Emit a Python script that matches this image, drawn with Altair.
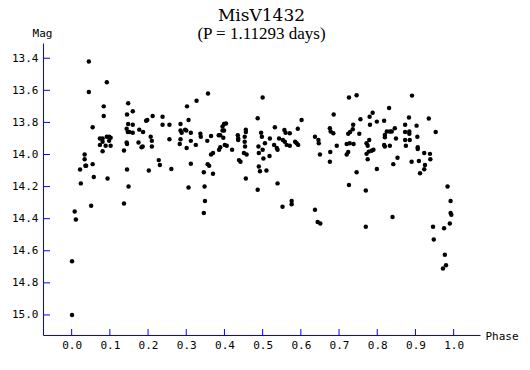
import altair as alt
import pandas as pd

phase = [
    0.001, 0.001, 0.008, 0.011, 0.022, 0.024, 0.034, 0.034, 0.036, 0.038,
    0.045, 0.045, 0.055, 0.055, 0.058, 0.051,
    0.074, 0.081, 0.092, 0.098, 0.102, 0.081, 0.098, 0.074, 0.089, 0.102,
    0.081, 0.084, 0.084, 0.092, 0.094,
    0.137, 0.137, 0.144, 0.147, 0.144, 0.145, 0.145, 0.148, 0.148, 0.145, 0.149,
    0.160, 0.160, 0.151, 0.160, 0.177, 0.187, 0.175, 0.183, 0.186, 0.195, 0.198,
    0.212, 0.207, 0.210, 0.210, 0.238, 0.238, 0.256, 0.256, 0.228, 0.231, 0.202, 0.261,
    0.285, 0.302, 0.327, 0.306, 0.285, 0.288, 0.297, 0.300, 0.312, 0.285, 0.283,
    0.301, 0.312, 0.325, 0.312, 0.306,
    0.337, 0.338, 0.346, 0.357, 0.355, 0.356, 0.360, 0.365, 0.365, 0.370, 0.370,
    0.385, 0.389, 0.386, 0.389, 0.395, 0.399, 0.404, 0.395, 0.399, 0.397, 0.401, 0.406,
    0.420, 0.435, 0.436, 0.436, 0.438, 0.442, 0.453, 0.453, 0.454, 0.456, 0.456,
    0.451, 0.458, 0.456, 0.487, 0.496, 0.498, 0.489, 0.500, 0.490, 0.490, 0.493,
    0.500, 0.502, 0.487, 0.506, 0.510,
    0.518, 0.519, 0.532, 0.530, 0.537, 0.539, 0.539, 0.543, 0.553, 0.558, 0.563, 0.571,
    0.557, 0.560, 0.571, 0.592, 0.602, 0.585, 0.589, 0.593,
    0.637, 0.646, 0.647, 0.650, 0.677, 0.676, 0.676, 0.678, 0.685, 0.686, 0.694,
    0.720, 0.724, 0.720, 0.728, 0.738, 0.724, 0.729, 0.736, 0.737, 0.726, 0.746,
    0.756, 0.753, 0.746,
    0.772, 0.775, 0.779, 0.772, 0.778, 0.785, 0.790, 0.775, 0.781, 0.780, 0.788,
    0.799, 0.799, 0.818, 0.820, 0.820, 0.818, 0.820, 0.825, 0.833, 0.838, 0.846,
    0.831, 0.833, 0.842, 0.849, 0.853,
    0.873, 0.873, 0.873, 0.875, 0.883, 0.884, 0.884, 0.885, 0.891, 0.890,
    0.903, 0.905, 0.906, 0.906, 0.909, 0.912, 0.923, 0.925, 0.923, 0.938, 0.939,
    0.935, 0.953,
    0.348, 0.349, 0.346, 0.552, 0.576, 0.576, 0.637, 0.644, 0.651, 0.726,
    0.770, 0.770, 0.840, 0.946, 0.948, 0.975, 0.977, 0.980, 0.972, 0.984,
    0.992, 0.992, 0.994, 0.990,
]

mag = [
    15.000, 14.665, 14.355, 14.405, 14.094, 14.180, 14.000, 14.030, 14.070, 14.070,
    13.420, 13.610, 13.830, 14.060, 14.140, 14.320,
    13.900, 13.900, 13.890, 13.890, 13.895, 13.920, 13.915, 13.940, 13.945, 13.945,
    13.980, 13.700, 13.760, 13.550, 14.150,
    13.975, 14.306, 13.840, 13.860, 13.925, 13.935, 13.750, 13.680, 13.810, 14.094, 14.200,
    13.730, 13.815, 13.860, 13.865, 13.845, 13.860, 13.925, 13.955, 13.950, 13.790, 13.785,
    13.760, 13.890, 13.915, 13.950, 13.765, 13.815, 13.815, 13.905, 14.035, 14.065, 14.100, 14.090,
    13.810, 13.700, 13.665, 13.785, 13.850, 13.865, 13.845, 13.850, 13.865, 13.905, 13.935,
    13.960, 13.915, 13.940, 14.057, 14.205,
    13.870, 13.890, 14.110, 13.620, 13.915, 14.060, 14.070, 13.885, 14.000, 13.990, 14.120,
    13.880, 13.880, 13.970, 13.955, 13.826, 13.810, 13.807, 13.850, 13.850, 13.895, 13.940, 13.945,
    13.970, 13.880, 13.900, 13.910, 14.035, 14.045, 13.890, 13.920, 13.950, 13.845, 13.860,
    13.990, 14.000, 14.150, 13.774, 13.865, 13.890, 13.950, 13.645, 13.990, 14.075, 14.105,
    13.970, 14.025, 14.220, 13.930, 14.100,
    14.010, 13.900, 13.830, 13.940, 13.960, 13.970, 14.180, 13.900, 13.910, 13.920, 13.940, 13.945,
    13.847, 13.864, 13.867, 13.840, 13.785, 13.920, 13.930, 13.940,
    13.890, 13.910, 13.930, 14.000, 13.985, 14.045, 13.836, 13.857, 13.867, 13.750, 13.945,
    14.000, 13.985, 13.934, 13.930, 13.934, 13.870, 13.860, 13.843, 13.815, 13.645, 13.630,
    13.780, 13.870, 14.110,
    13.930, 13.945, 13.910, 13.996, 13.982, 13.976, 13.970, 14.030, 13.815, 13.764, 13.740,
    13.795, 14.090, 13.790, 13.878, 13.892, 13.940, 13.950, 13.857, 13.857, 13.857, 13.836,
    13.710, 13.945, 14.060, 13.900, 14.020,
    13.815, 13.860, 13.910, 13.945, 13.770, 13.857, 13.870, 13.910, 13.633, 14.045,
    13.820, 13.890, 13.955, 13.965, 14.040, 14.117, 14.092, 14.065, 13.990, 13.996, 14.030,
    13.775, 13.860,
    14.200, 14.290, 14.365, 14.325, 14.290, 14.310, 14.345, 14.420, 14.430, 14.190,
    14.225, 14.450, 14.390, 14.450, 14.530, 14.460, 14.625, 14.690, 14.710, 14.200,
    14.290, 14.365, 14.375, 14.430,
]

x_ticks = [0.0, 0.1, 0.2, 0.3, 0.4, 0.5, 0.6, 0.7, 0.8, 0.9, 1.0]
y_ticks = [13.4, 13.6, 13.8, 14.0, 14.2, 14.4, 14.6, 14.8, 15.0]

W, H = 437, 292
BLUE = "#0000ff"
FONT = "DejaVu Sans Mono"

df = pd.DataFrame({"phase": phase, "mag": mag})
xs = alt.Scale(domain=[-0.075, 1.069], nice=False, zero=False)
ys = alt.Scale(domain=[13.305, 15.125], reverse=True, nice=False, zero=False)

common_axis = dict(
    domainColor=BLUE, domainWidth=1, ticks=False, tickSize=0, grid=False,
    labelFont=FONT, labelFontSize=11, labelColor="black",
    titleFont=FONT, titleFontSize=11, titleFontWeight="normal", titleColor="black",
    titleAngle=0, format=".1f",
)

x_axis = alt.Axis(
    values=x_ticks, title="Phase", labelPadding=4,
    titleX=442, titleY=4, titleAlign="left", titleBaseline="alphabetic",
    **common_axis)
y_axis = alt.Axis(
    values=y_ticks, title="Mag", labelPadding=5,
    titleX=-1, titleY=-7, titleAlign="center", titleBaseline="alphabetic",
    **common_axis)

points = alt.Chart(df).mark_circle(size=20, color="black", opacity=1).encode(
    x=alt.X("phase:Q", scale=xs, axis=x_axis, title="Phase"),
    y=alt.Y("mag:Q", scale=ys, axis=y_axis, title="Mag"),
)

xt = alt.Chart(pd.DataFrame({"phase": x_ticks})).mark_rule(color=BLUE, strokeWidth=1).encode(
    x=alt.X("phase:Q", scale=xs, axis=x_axis, title="Phase"),
    y=alt.value(H), y2=alt.value(H - 6))
yt = alt.Chart(pd.DataFrame({"mag": y_ticks})).mark_rule(color=BLUE, strokeWidth=1).encode(
    y=alt.Y("mag:Q", scale=ys, axis=y_axis, title="Mag"),
    x=alt.value(0), x2=alt.value(7))

chart = alt.layer(points, xt, yt).properties(
    width=W, height=H,
    autosize=alt.AutoSizeParams(type="none"),
    padding={"left": 35, "top": 35, "right": 40, "bottom": 30},
    title=alt.TitleParams(
        text="MisV1432", subtitle="(P = 1.11293 days)",
        font="DejaVu Serif", fontSize=17, fontWeight="normal", color="black",
        subtitleFont="Liberation Serif", subtitleFontSize=17, subtitleColor="black",
        anchor="middle", offset=-16, subtitlePadding=1,
    ),
).configure_view(strokeWidth=0)

chart.save("out.html", embed_options={"renderer": "svg", "actions": False})
